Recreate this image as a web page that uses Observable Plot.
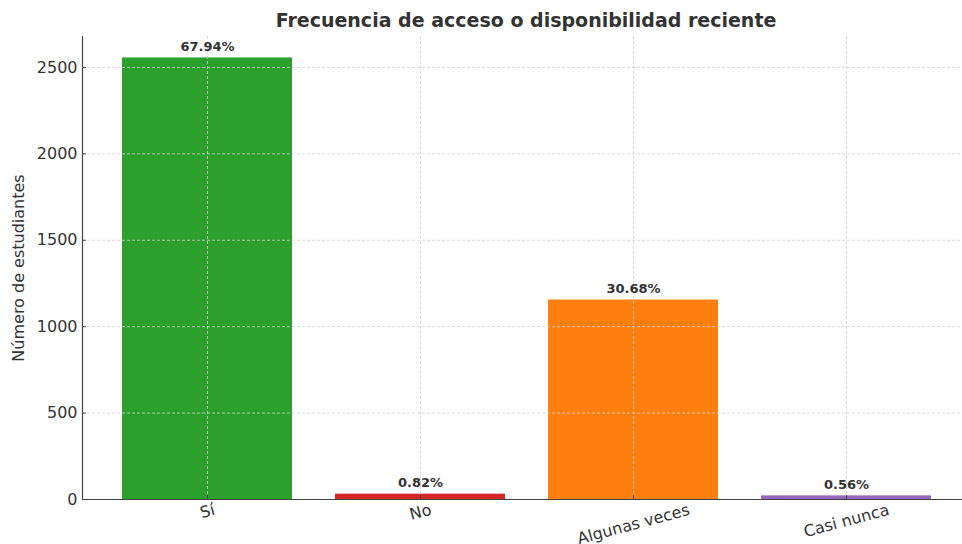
<!DOCTYPE html>
<html>
<head>
<meta charset="utf-8">
<script src="https://cdn.jsdelivr.net/npm/d3@7"></script>
<script src="https://cdn.jsdelivr.net/npm/@observablehq/plot@0.6"></script>
<style>
  html, body { margin: 0; padding: 0; background: #fff; }
  #wrap { width: 962px; height: 544px; overflow: hidden; font-family: "DejaVu Sans", sans-serif; }
  #title { width: 962px; box-sizing: border-box; padding-left: 90px; padding-top: 5px; height: 30px; line-height: 30px;
           text-align: center; font-weight: bold; font-size: 19px; color: #333; }
</style>
</head>
<body>
<div id="wrap">
  <div id="title">Frecuencia de acceso o disponibilidad reciente</div>
  <div id="chart"></div>
</div>
<script>
const categories = ["Sí", "No", "Algunas veces", "Casi nunca"];
const counts = [2555, 31, 1154, 21];
const percentLabels = ["67.94%", "0.82%", "30.68%", "0.56%"];
const barColors = ["#2ca02c", "#d62728", "#ff7f0e", "#9467bd"];
const yTicks = [0, 500, 1000, 1500, 2000, 2500];
const yLabel = "Número de estudiantes";

const data = categories.map((c, i) => ({cat: c, n: counts[i], pct: percentLabels[i]}));

const gridStyle = {stroke: "#cfcfcf", strokeOpacity: 1, strokeWidth: 0.8, strokeDasharray: "3,2"};

const chart = Plot.plot({
  width: 962,
  height: 514,
  marginLeft: 82,
  marginRight: 0,
  marginTop: 6,
  marginBottom: 45,
  style: {fontFamily: "DejaVu Sans, sans-serif", fontSize: "16px", color: "#333", background: "#fff"},
  x: {domain: categories, range: [81, 972], paddingInner: 0.2, paddingOuter: 0.19, axis: null},
  y: {domain: [0, 2679], axis: null},
  color: {domain: categories, range: barColors},
  marks: [
    Plot.barY(data, {x: "cat", y: "n", fill: "cat"}),
    Plot.gridY(yTicks.filter(d => d > 0), gridStyle),
    Plot.gridX(categories, gridStyle),
    Plot.text(data, {x: "cat", y: "n", text: "pct", lineAnchor: "bottom", dy: -7,
                     fontWeight: "bold", fontSize: 13, fill: "#333"}),
    Plot.axisY(yTicks, {tickSize: 4, dx: 4, tickFormat: () => "", stroke: "#444", label: null}),
    Plot.axisY(yTicks, {tickSize: 0, tickPadding: 5, tickFormat: d => String(d), fontSize: 16, fill: "#333", label: null}),
    Plot.axisX({tickSize: 4, dy: -4, tickFormat: () => "", stroke: "#444", label: null}),
    Plot.text(categories, {x: d => d, frameAnchor: "bottom", dy: 10, rotate: -15,
                           textAnchor: "middle", lineAnchor: "middle", fontSize: 16, fill: "#333",
                           ariaLabel: "xlabels"}),
    Plot.text([yLabel], {frameAnchor: "left", dx: -64, rotate: -90, fontSize: 16, fill: "#333",
                         textAnchor: "middle", lineAnchor: "middle"}),
    Plot.ruleY([0], {stroke: "#444", strokeWidth: 1.2}),
    Plot.frame({anchor: "left", stroke: "#444", strokeWidth: 1.2})
  ]
});

document.getElementById("chart").append(chart);

// mimic matplotlib's rotated-label alignment (top of rotated bbox fixed)
const sin15 = Math.sin(15 * Math.PI / 180);
const catSet = new Set(categories);
chart.querySelectorAll("text").forEach(el => {
  if (!catSet.has(el.textContent)) return;
  let w = 0;
  try { w = el.getComputedTextLength(); } catch (e) {}
  if (!w) { try { w = el.getBBox().width; } catch (e) {} }
  if (!w) w = el.textContent.length * 9;
  const shift = w * sin15 / 2;
  const t = el.getAttribute("transform") || "";
  el.setAttribute("transform", `translate(0,${shift.toFixed(2)}) ` + t);
});
</script>
</body>
</html>
